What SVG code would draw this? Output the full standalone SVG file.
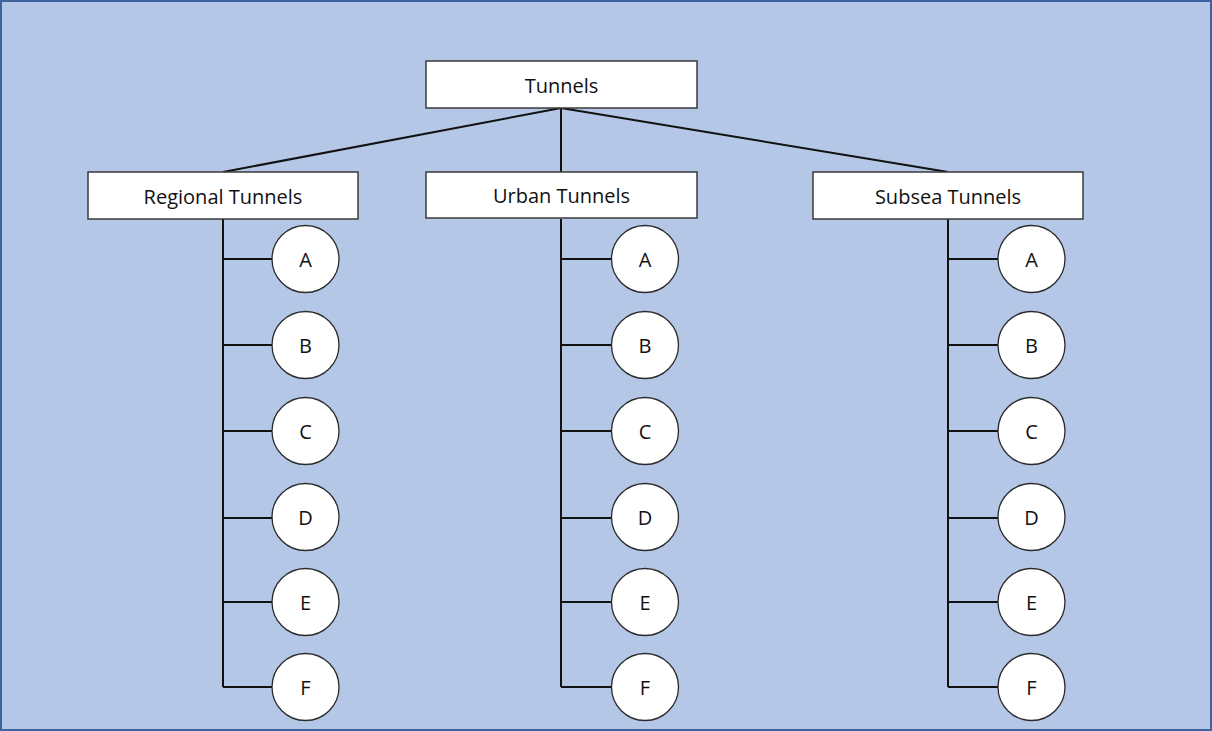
<svg xmlns="http://www.w3.org/2000/svg" width="1212" height="731" viewBox="0 0 1212 731">
  <style>
    .box { fill: #ffffff; stroke: #3a3a3a; stroke-width: 1.5; }
    .leaf { fill: #ffffff; stroke: #2a2a2a; stroke-width: 1.3; }
    .wire { stroke: #111111; stroke-width: 2; fill: none; }
    .lbl { font-family: "Open Sans", "Liberation Sans", sans-serif; font-size: 20px; fill: #111111; text-anchor: middle; dominant-baseline: central; }
  </style>
  <rect x="1" y="1" width="1210" height="729" fill="#b4c7e7" stroke="#4063a0" stroke-width="2"/>

  <g id="connectors">
    <line class="wire" x1="561" y1="108" x2="223" y2="172"/>
    <line class="wire" x1="561" y1="108" x2="561" y2="172"/>
    <line class="wire" x1="561" y1="108" x2="948" y2="172"/>
    <path class="wire" d="M223 219V687M223 259H272M223 345H272M223 431H272M223 518H272M223 602H272M223 687H272"/>
    <path class="wire" d="M561 219V687M561 259H611M561 345H611M561 431H611M561 518H611M561 602H611M561 687H611"/>
    <path class="wire" d="M948 219V687M948 259H998M948 345H998M948 431H998M948 518H998M948 602H998M948 687H998"/>
  </g>

  <g id="tunnels"><rect class="box" x="426" y="61" width="271" height="47"/><text class="lbl" x="561.5" y="85">Tunnels</text></g>
  <g id="regional"><rect class="box" x="88" y="172" width="270" height="47"/><text class="lbl" x="223" y="196">Regional Tunnels</text></g>
  <g id="urban"><rect class="box" x="426" y="172" width="271" height="46"/><text class="lbl" x="561.5" y="195">Urban Tunnels</text></g>
  <g id="subsea"><rect class="box" x="813" y="172" width="270" height="47"/><text class="lbl" x="948" y="196">Subsea Tunnels</text></g>

  <g id="regional-a"><circle class="leaf" cx="305.5" cy="259" r="33.5"/><text class="lbl" x="305.5" y="259">A</text></g>
  <g id="regional-b"><circle class="leaf" cx="305.5" cy="345" r="33.5"/><text class="lbl" x="305.5" y="345">B</text></g>
  <g id="regional-c"><circle class="leaf" cx="305.5" cy="431" r="33.5"/><text class="lbl" x="305.5" y="431">C</text></g>
  <g id="regional-d"><circle class="leaf" cx="305.5" cy="517" r="33.5"/><text class="lbl" x="305.5" y="517">D</text></g>
  <g id="regional-e"><circle class="leaf" cx="305.5" cy="602" r="33.5"/><text class="lbl" x="305.5" y="602">E</text></g>
  <g id="regional-f"><circle class="leaf" cx="305.5" cy="687" r="33.5"/><text class="lbl" x="305.5" y="687">F</text></g>

  <g id="urban-a"><circle class="leaf" cx="645" cy="259" r="33.5"/><text class="lbl" x="645" y="259">A</text></g>
  <g id="urban-b"><circle class="leaf" cx="645" cy="345" r="33.5"/><text class="lbl" x="645" y="345">B</text></g>
  <g id="urban-c"><circle class="leaf" cx="645" cy="431" r="33.5"/><text class="lbl" x="645" y="431">C</text></g>
  <g id="urban-d"><circle class="leaf" cx="645" cy="517" r="33.5"/><text class="lbl" x="645" y="517">D</text></g>
  <g id="urban-e"><circle class="leaf" cx="645" cy="602" r="33.5"/><text class="lbl" x="645" y="602">E</text></g>
  <g id="urban-f"><circle class="leaf" cx="645" cy="687" r="33.5"/><text class="lbl" x="645" y="687">F</text></g>

  <g id="subsea-a"><circle class="leaf" cx="1031.5" cy="259" r="33.5"/><text class="lbl" x="1031.5" y="259">A</text></g>
  <g id="subsea-b"><circle class="leaf" cx="1031.5" cy="345" r="33.5"/><text class="lbl" x="1031.5" y="345">B</text></g>
  <g id="subsea-c"><circle class="leaf" cx="1031.5" cy="431" r="33.5"/><text class="lbl" x="1031.5" y="431">C</text></g>
  <g id="subsea-d"><circle class="leaf" cx="1031.5" cy="517" r="33.5"/><text class="lbl" x="1031.5" y="517">D</text></g>
  <g id="subsea-e"><circle class="leaf" cx="1031.5" cy="602" r="33.5"/><text class="lbl" x="1031.5" y="602">E</text></g>
  <g id="subsea-f"><circle class="leaf" cx="1031.5" cy="687" r="33.5"/><text class="lbl" x="1031.5" y="687">F</text></g>
</svg>
